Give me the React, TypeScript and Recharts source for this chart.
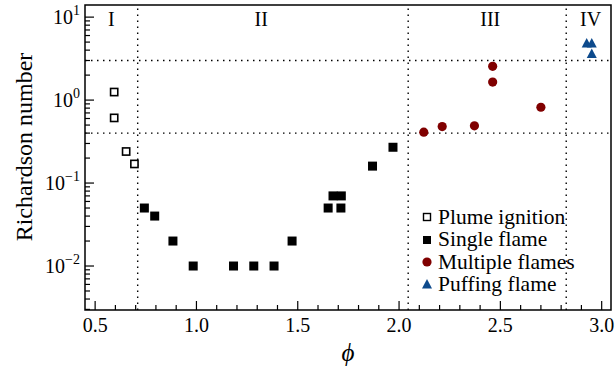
import React from 'react';
import {
  ScatterChart, Scatter, XAxis, YAxis, ReferenceLine, ReferenceArea, Legend,
} from 'recharts';

// equivalence ratio (phi) and Richardson number per regime
const PHI_PLUME = [0.594, 0.594, 0.653, 0.694];
const RI_PLUME = [1.25, 0.61, 0.24, 0.17];

const PHI_SINGLE = [0.743, 0.794, 0.884, 0.984, 1.183, 1.283, 1.383, 1.472, 1.65, 1.674, 1.713, 1.715, 1.869, 1.97];
const RI_SINGLE = [0.05, 0.04, 0.02, 0.01, 0.01, 0.01, 0.01, 0.02, 0.05, 0.07, 0.05, 0.07, 0.16, 0.27];

const PHI_MULTI = [2.122, 2.213, 2.372, 2.462, 2.462, 2.7];
const RI_MULTI = [0.41, 0.48, 0.49, 2.55, 1.65, 0.82];

const PHI_PUFF = [2.926, 2.951, 2.951];
const RI_PUFF = [4.8, 4.8, 3.6];

// regime boundaries
const PHI_BOUNDS = [0.71, 2.045, 2.825];
const RI_BOUNDS = [0.4, 3];

// regime labels, placed near the top of each band
const REGION_NAMES = ['I', 'II', 'III', 'IV'];
const REGION_PHI = [0.58, 1.32, 2.45, 2.945];
const REGION_RI = [7.8, 7.8, 7.8, 7.8];

const X_DOMAIN = [0.45, 3.046];
const Y_DOMAIN = [0.00295, 14];
const X_MAJOR = [0.5, 1.0, 1.5, 2.0, 2.5, 3.0];
const X_TICKS = [
  0.5, 0.6, 0.7, 0.8, 0.9, 1.0, 1.1, 1.2, 1.3, 1.4, 1.5, 1.6, 1.7, 1.8, 1.9,
  2.0, 2.1, 2.2, 2.3, 2.4, 2.5, 2.6, 2.7, 2.8, 2.9, 3.0,
];
const Y_MAJOR = [0.01, 0.1, 1, 10];
const Y_EXP = ['−2', '−1', '0', '1'];
const Y_TICKS = [
  0.003, 0.004, 0.005, 0.006, 0.007, 0.008, 0.009,
  0.01, 0.02, 0.03, 0.04, 0.05, 0.06, 0.07, 0.08, 0.09,
  0.1, 0.2, 0.3, 0.4, 0.5, 0.6, 0.7, 0.8, 0.9,
  1, 2, 3, 4, 5, 6, 7, 8, 9, 10,
];

const FONT = '"Liberation Serif", "Times New Roman", serif';
const RED = '#800000';
const BLUE = '#0d4a8c';

const zip = (xs: number[], ys: number[]) => xs.map((x, i) => ({ phi: x, ri: ys[i] }));
const plume = zip(PHI_PLUME, RI_PLUME);
const single = zip(PHI_SINGLE, RI_SINGLE);
const multi = zip(PHI_MULTI, RI_MULTI);
const puff = zip(PHI_PUFF, RI_PUFF);
const regions = REGION_NAMES.map((name, i) => ({ phi: REGION_PHI[i], ri: REGION_RI[i], name }));

const near = (a: number, list: number[]) => list.findIndex((b) => Math.abs(a - b) < 1e-9);

function XTick({ x, y, payload }: any) {
  const major = near(payload.value, X_MAJOR) >= 0;
  return (
    <g>
      <line x1={x} x2={x} y1={y} y2={y - (major ? 9 : 5)} stroke="#000" strokeWidth={1.2} />
      {major && (
        <text x={x} y={y + 22} textAnchor="middle" fontFamily={FONT} fontSize={20} fill="#000">
          {payload.value.toFixed(1)}
        </text>
      )}
    </g>
  );
}

function YTick({ x, y, payload }: any) {
  const idx = near(payload.value, Y_MAJOR);
  const major = idx >= 0;
  return (
    <g>
      <line x1={x} x2={x + (major ? 9 : 5)} y1={y} y2={y} stroke="#000" strokeWidth={1.2} />
      {major && (
        <text x={x - 5} y={y + 7} textAnchor="end" fontFamily={FONT} fontSize={20} fill="#000">
          <tspan>10</tspan>
          <tspan dy={-9} fontSize={14}>{Y_EXP[idx]}</tspan>
        </text>
      )}
    </g>
  );
}

const OpenSquare = ({ cx, cy }: any) => (
  <rect x={cx - 3.6} y={cy - 3.6} width={7.2} height={7.2} fill="#fff" stroke="#000" strokeWidth={1.6} />
);
const FilledSquare = ({ cx, cy }: any) => (
  <rect x={cx - 4.5} y={cy - 4.5} width={9} height={9} fill="#000" />
);
const Dot = ({ cx, cy }: any) => <circle cx={cx} cy={cy} r={4.6} fill={RED} />;
const Triangle = ({ cx, cy }: any) => (
  <path d={`M${cx},${cy - 5.5} L${cx + 5},${cy + 4} L${cx - 5},${cy + 4} Z`} fill={BLUE} />
);
const RegionLabel = ({ cx, cy, payload }: any) => (
  <text x={cx} y={cy} textAnchor="middle" fontFamily={FONT} fontSize={20} fill="#000">
    {payload.name}
  </text>
);

const LEGEND_ITEMS = [
  { label: 'Plume ignition', icon: <rect x={1.5} y={1.5} width={7} height={7} fill="#fff" stroke="#000" strokeWidth={1.4} /> },
  { label: 'Single flame', icon: <rect x={1} y={1} width={8} height={8} fill="#000" /> },
  { label: 'Multiple flames', icon: <circle cx={5} cy={5} r={4.6} fill={RED} /> },
  { label: 'Puffing flame', icon: <path d="M5,0 L10,9.5 L0,9.5 Z" fill={BLUE} /> },
];

function LegendBox() {
  return (
    <div style={{ fontFamily: FONT, fontSize: 21.5, lineHeight: '22.4px', color: '#000' }}>
      {LEGEND_ITEMS.map((it) => (
        <div key={it.label} style={{ display: 'flex', alignItems: 'center', height: 22.4 }}>
          <svg width={10} height={10} style={{ marginRight: 6, overflow: 'visible' }}>{it.icon}</svg>
          <span>{it.label}</span>
        </div>
      ))}
    </div>
  );
}

export default function App() {
  return (
    <div style={{ position: 'absolute', left: 0, top: 0, width: 615, height: 369, background: '#fff' }}>
      <ScatterChart width={615} height={369} margin={{ top: 5, right: 4, bottom: 0, left: 0 }}>
        <XAxis
          type="number"
          dataKey="phi"
          domain={X_DOMAIN}
          allowDataOverflow
          ticks={X_TICKS}
          interval={0}
          tick={<XTick />}
          tickLine={false}
          tickSize={0}
          tickMargin={0}
          axisLine={false}
          height={59}
          label={{
            content: () => (
              <text x={348} y={361} textAnchor="middle" fontFamily={FONT} fontStyle="italic" fontSize={25} fill="#000">
                ϕ
              </text>
            ),
          }}
        />
        <YAxis
          type="number"
          dataKey="ri"
          scale="log"
          domain={Y_DOMAIN}
          allowDataOverflow
          ticks={Y_TICKS}
          interval={0}
          tick={<YTick />}
          tickLine={false}
          tickSize={0}
          tickMargin={0}
          axisLine={false}
          width={85}
          label={{
            content: () => (
              <text transform="translate(32,147) rotate(-90)" textAnchor="middle" fontFamily={FONT} fontSize={24} fill="#000">
                Richardson number
              </text>
            ),
          }}
        />
        {RI_BOUNDS.map((v) => (
          <ReferenceLine key={`h${v}`} y={v} stroke="#000" strokeWidth={1.4} strokeDasharray="1.5 4.5" />
        ))}
        {PHI_BOUNDS.map((v) => (
          <ReferenceLine key={`v${v}`} x={v} stroke="#000" strokeWidth={1.4} strokeDasharray="1.5 4.5" />
        ))}
        <ReferenceArea
          x1={X_DOMAIN[0]} x2={X_DOMAIN[1]} y1={Y_DOMAIN[0]} y2={Y_DOMAIN[1]}
          fill="none" fillOpacity={0} stroke="#000" strokeWidth={1.5} ifOverflow="visible"
        />
        <Scatter data={regions} shape={<RegionLabel />} legendType="none" isAnimationActive={false} />
        <Scatter name="Plume ignition" data={plume} shape={<OpenSquare />} isAnimationActive={false} />
        <Scatter name="Single flame" data={single} shape={<FilledSquare />} isAnimationActive={false} />
        <Scatter name="Multiple flames" data={multi} shape={<Dot />} isAnimationActive={false} />
        <Scatter name="Puffing flame" data={puff} shape={<Triangle />} isAnimationActive={false} />
        <Legend
          layout="vertical"
          align="center"
          verticalAlign="middle"
          content={() => <LegendBox />}
          wrapperStyle={{ position: 'absolute', left: 422, top: 206, width: 'auto', height: 'auto' }}
        />
      </ScatterChart>
    </div>
  );
}
